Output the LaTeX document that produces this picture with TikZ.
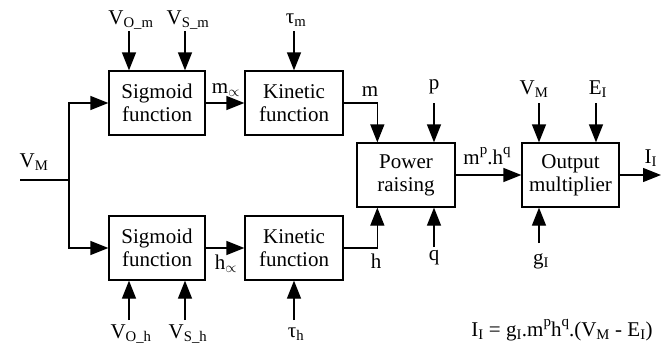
\documentclass[tikz,border=0pt]{standalone}
\usepackage{fontspec}
\setmainfont{Liberation Serif}
\usetikzlibrary{arrows.meta}
\newcommand{\hisup}[1]{\raisebox{1.05ex}{\fontsize{15}{15}\selectfont #1}}
\begin{document}
\begin{tikzpicture}[x=1pt,y=-1pt,
  >={Triangle[length=18pt,width=14pt]},
  every path/.style={line width=1.3pt},
  block/.style={draw,minimum width=96pt,minimum height=64pt,align=center,
    inner sep=0pt,font=\fontsize{21}{23}\selectfont},
  lbl/.style={inner sep=1pt,font=\fontsize{21}{23}\selectfont}]
 \useasboundingbox (0,0) rectangle (661,354);
 % blocks
 \node[block] (sigm) at (157,103) {Sigmoid\\function};
 \node[block,minimum width=98pt] (kinm) at (294,103) {Kinetic\\function};
 \node[block] (sigh) at (157,248) {Sigmoid\\function};
 \node[block,minimum width=98pt] (kinh) at (294,248) {Kinetic\\function};
 \node[block,minimum width=98pt] (pow) at (406,175) {Power\\raising};
 \node[block,minimum width=97pt] (outp) at (570.5,175) {Output\\multiplier};
 % membrane voltage input
 \node[lbl] (vm) at (34,162) {V\textsubscript{M}};
 \coordinate (vin) at (20,180);
 \coordinate (fork) at (69,180);
 \draw (vin) -- (fork);
 \draw[->] (fork) |- (sigm.west);
 \draw[->] (fork) |- (sigh.west);
 % m gate
 \node[lbl] (vom) at (131,20) {V\textsubscript{O\_m}};
 \node[lbl] (vsm) at (188,20) {V\textsubscript{S\_m}};
 \node[lbl] (taum) at (296,20) {τ\textsubscript{m}};
 \coordinate (vomin) at (129,31);
 \coordinate (vsmin) at (185,31);
 \coordinate (taumin) at (294,31);
 \draw[->] (vomin) -- (vomin |- sigm.north);
 \draw[->] (vsmin) -- (vsmin |- sigm.north);
 \draw[->] (taumin) -- (taumin |- kinm.north);
 \draw[->] (sigm.east) -- (kinm.west);
 \node[lbl] (minf) at (226,90) {m\textsubscript{$\propto$}};
 % h gate
 \node[lbl] (voh) at (131,334) {V\textsubscript{O\_h}};
 \node[lbl] (vsh) at (188,334) {V\textsubscript{S\_h}};
 \node[lbl] (tauh) at (296,334) {τ\textsubscript{h}};
 \coordinate (vohin) at (129,320);
 \coordinate (vshin) at (185,320);
 \coordinate (tauhin) at (294,320);
 \draw[->] (vohin) -- (vohin |- sigh.south);
 \draw[->] (vshin) -- (vshin |- sigh.south);
 \draw[->] (tauhin) -- (tauhin |- kinh.south);
 \draw[->] (sigh.east) -- (kinh.west);
 \node[lbl] (hinf) at (226,264) {h\textsubscript{$\propto$}};
 % power raising
 \draw[->] (kinm.east) -| ([xshift=21pt]pow.north west);
 \draw[->] (kinh.east) -| ([xshift=21pt]pow.south west);
 \node[lbl] (mlbl) at (370,92) {m};
 \node[lbl] (hlbl) at (376,261) {h};
 \node[lbl] (plbl) at (434,87) {p};
 \node[lbl] (qlbl) at (434,258) {q};
 \coordinate (pin) at (434,103);
 \coordinate (qin) at (434,247);
 \draw[->] (pin) -- (pin |- pow.north);
 \draw[->] (qin) -- (qin |- pow.south);
 \draw[->] (pow.east) -- (outp.west);
 \node[lbl] (mhlbl) at (487,156) {m\hisup{p}.h\hisup{q}};
 % output multiplier
 \node[lbl] (vm2) at (534,89) {V\textsubscript{M}};
 \node[lbl] (ei) at (598,89) {E\textsubscript{I}};
 \node[lbl] (gi) at (541,261) {g\textsubscript{I}};
 \coordinate (vm2in) at (539,103);
 \coordinate (eiin) at (596,103);
 \coordinate (giin) at (539,243);
 \draw[->] (vm2in) -- (vm2in |- outp.north);
 \draw[->] (eiin) -- (eiin |- outp.north);
 \draw[->] (giin) -- (giin |- outp.south);
 \coordinate (iout) at (661,175);
 \draw[->] (outp.east) -- (iout);
 \node[lbl,anchor=west] (ii) at (643,158) {I\textsubscript{I}};
 \node[lbl] (eq) at (562,330) {I\textsubscript{I} = g\textsubscript{I}.m\hisup{p}h\hisup{q}.(V\textsubscript{M} - E\textsubscript{I})};
\end{tikzpicture}
\end{document}
